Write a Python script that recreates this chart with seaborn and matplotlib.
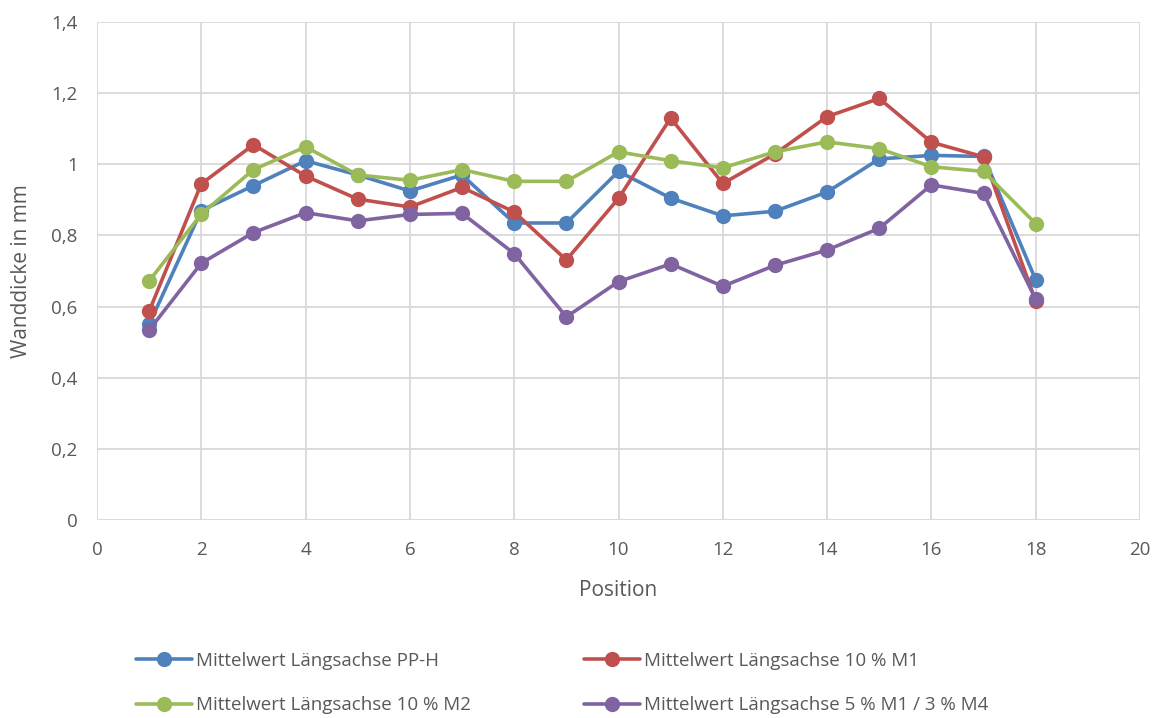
import matplotlib
matplotlib.use("Agg")
import matplotlib.pyplot as plt
import seaborn as sns
import pandas as pd
from matplotlib.ticker import FuncFormatter, MultipleLocator
from matplotlib.lines import Line2D

positions = list(range(1, 19))
pp_h = [0.55, 0.87, 0.94, 1.01, 0.97, 0.925, 0.97, 0.835, 0.835, 0.98, 0.905, 0.855, 0.868, 0.922, 1.015, 1.025, 1.022, 0.675]
m1_10 = [0.587, 0.945, 1.055, 0.967, 0.902, 0.88, 0.935, 0.866, 0.731, 0.904, 1.13, 0.946, 1.029, 1.134, 1.185, 1.062, 1.021, 0.615]
m2_10 = [0.672, 0.86, 0.985, 1.049, 0.97, 0.955, 0.985, 0.952, 0.952, 1.035, 1.01, 0.99, 1.035, 1.063, 1.044, 0.993, 0.98, 0.833]
m1m4 = [0.534, 0.722, 0.808, 0.864, 0.841, 0.859, 0.862, 0.749, 0.571, 0.67, 0.72, 0.657, 0.716, 0.759, 0.82, 0.942, 0.918, 0.621]

labels = ["Mittelwert Längsachse PP-H",
          "Mittelwert Längsachse 10 % M1",
          "Mittelwert Längsachse 10 % M2",
          "Mittelwert Längsachse 5 % M1 / 3 % M4"]
colors = ["#4F81BD", "#C0504D", "#9BBB59", "#8064A2"]

frames = []
for lab, vals in zip(labels, [pp_h, m1_10, m2_10, m1m4]):
    frames.append(pd.DataFrame({"Position": positions, "Wanddicke": vals, "Serie": lab}))
df = pd.concat(frames, ignore_index=True)

sns.set_theme(style="white")
plt.rcParams['font.family'] = ['Open Sans', 'DejaVu Sans']

fig = plt.figure(figsize=(11.58, 7.18), dpi=100)
ax = fig.add_axes([97/1158, 1-520/718, (1140-97)/1158, (520-22)/718])

sns.lineplot(data=df, x="Position", y="Wanddicke", hue="Serie", hue_order=labels,
             palette=colors, marker="o", markersize=11, linewidth=2.6,
             markeredgewidth=0, ax=ax, legend=False)

ax.set_xlim(0, 20)
ax.set_ylim(0, 1.4)
ax.xaxis.set_major_locator(MultipleLocator(2))
ax.yaxis.set_major_locator(MultipleLocator(0.2))

def fmt(v, pos):
    s = f"{v:.1f}".rstrip("0").rstrip(".")
    return s.replace(".", ",")
ax.yaxis.set_major_formatter(FuncFormatter(fmt))

ax.grid(True, color="#D9D9D9", linewidth=1.3)
ax.set_axisbelow(True)
for s in ax.spines.values():
    s.set_visible(False)
ax.tick_params(axis="both", length=0, labelsize=13.5, colors="#595959")
ax.tick_params(axis="y", pad=14)
ax.tick_params(axis="x", pad=15)
ax.set_xlabel("Position", fontsize=15, color="#595959", labelpad=15)
ax.set_ylabel("Wanddicke in mm", fontsize=15, color="#595959", labelpad=14)

handles = [Line2D([0], [0], color=c, lw=2.6, marker="o", markersize=11, markeredgewidth=0) for c in colors]
order = [0, 2, 1, 3]
fig.legend([handles[i] for i in order], [labels[i] for i in order], ncol=2, loc="center",
           bbox_to_anchor=(562/1158, 1-683/718),
           frameon=False, fontsize=13.5, labelcolor="#595959", handlelength=3.0,
           handletextpad=0.2, columnspacing=6.0, labelspacing=1.4)

fig.savefig("out.png", dpi=100)
